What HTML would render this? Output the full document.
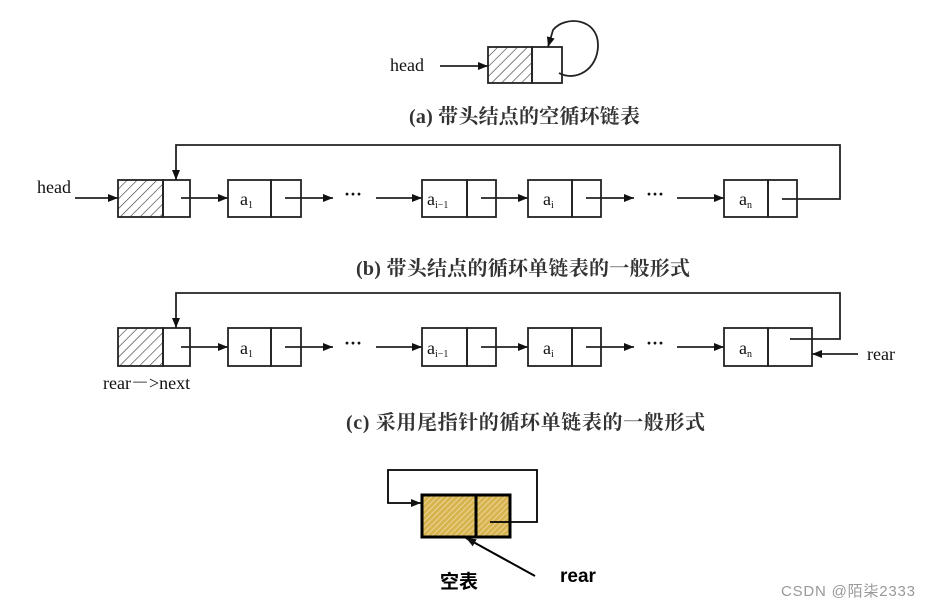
<!DOCTYPE html>
<html><head><meta charset="utf-8"><style>html,body{margin:0;padding:0;background:#fff}svg{display:block}</style></head>
<body>
<svg width="929" height="606" viewBox="0 0 929 606" xmlns="http://www.w3.org/2000/svg" font-family="'Liberation Serif','Noto Serif CJK SC',serif">
<defs>
<pattern id="h" width="7" height="7" patternUnits="userSpaceOnUse" patternTransform="rotate(45)"><rect width="7" height="7" fill="#fff"/><line x1="0" y1="0" x2="0" y2="7" stroke="#333" stroke-width="1.2"/></pattern>
<pattern id="y" width="4" height="4" patternUnits="userSpaceOnUse" patternTransform="rotate(45)"><rect width="4" height="4" fill="#d8b450"/><line x1="0" y1="0" x2="0" y2="4" stroke="#f3e3b0" stroke-width="1.4"/></pattern>
<marker id="a" markerWidth="10" markerHeight="8" refX="10" refY="4" orient="auto" markerUnits="userSpaceOnUse"><path d="M0,0 L10,4 L0,8 z" fill="#111"/></marker>
</defs>
<g stroke="#222" stroke-width="1.8" fill="none">
<line x1="440" y1="66" x2="488" y2="66" marker-end="url(#a)"/>
<rect x="488" y="47" width="44" height="36" fill="url(#h)"/>
<rect x="532" y="47" width="30" height="36"/>
<path d="M559,73 C575,82 598,70 598,45 C598,18 565,15 553,30 L548,47" marker-end="url(#a)"/>
<line x1="75" y1="198" x2="118" y2="198" marker-end="url(#a)"/>
<rect x="118" y="180" width="45" height="37" fill="url(#h)"/>
<rect x="163" y="180" width="27" height="37"/>
<line x1="181" y1="198" x2="228" y2="198" marker-end="url(#a)"/>
<rect x="228" y="180" width="43" height="37"/><rect x="271" y="180" width="30" height="37"/>
<line x1="285" y1="198" x2="333" y2="198" marker-end="url(#a)"/>
<line x1="376" y1="198" x2="422" y2="198" marker-end="url(#a)"/>
<rect x="422" y="180" width="45" height="37"/><rect x="467" y="180" width="29" height="37"/>
<line x1="481" y1="198" x2="528" y2="198" marker-end="url(#a)"/>
<rect x="528" y="180" width="44" height="37"/><rect x="572" y="180" width="29" height="37"/>
<line x1="586" y1="198" x2="634" y2="198" marker-end="url(#a)"/>
<line x1="677" y1="198" x2="724" y2="198" marker-end="url(#a)"/>
<rect x="724" y="180" width="44" height="37"/><rect x="768" y="180" width="29" height="37"/>
<path d="M782,199 H840 V145 H176 V180" marker-end="url(#a)"/>
<rect x="118" y="328" width="45" height="38" fill="url(#h)"/>
<rect x="163" y="328" width="27" height="38"/>
<line x1="181" y1="347" x2="228" y2="347" marker-end="url(#a)"/>
<rect x="228" y="328" width="43" height="38"/><rect x="271" y="328" width="30" height="38"/>
<line x1="285" y1="347" x2="333" y2="347" marker-end="url(#a)"/>
<line x1="376" y1="347" x2="422" y2="347" marker-end="url(#a)"/>
<rect x="422" y="328" width="45" height="38"/><rect x="467" y="328" width="29" height="38"/>
<line x1="481" y1="347" x2="528" y2="347" marker-end="url(#a)"/>
<rect x="528" y="328" width="44" height="38"/><rect x="572" y="328" width="29" height="38"/>
<line x1="586" y1="347" x2="634" y2="347" marker-end="url(#a)"/>
<line x1="677" y1="347" x2="724" y2="347" marker-end="url(#a)"/>
<rect x="724" y="328" width="44" height="38"/><rect x="768" y="328" width="44" height="38"/>
<path d="M790,339 H840 V293 H176 V328" marker-end="url(#a)"/>
<line x1="858" y1="354" x2="812" y2="354" marker-end="url(#a)"/>
<rect x="422" y="495" width="54" height="42" fill="url(#y)" stroke="#000" stroke-width="3"/>
<rect x="476" y="495" width="34" height="42" fill="url(#y)" stroke="#000" stroke-width="3"/>
<path d="M490,522 H537 V470 H388 V503 H421" stroke="#000" marker-end="url(#a)"/>
<line x1="535" y1="576" x2="466" y2="538" stroke="#000" stroke-width="2" marker-end="url(#a)"/>
</g>
<g fill="#111" font-size="18">
<text x="390" y="71">head</text>
<text x="37" y="193">head</text>
<text x="867" y="360">rear</text>
<text x="103" y="389">rear－&gt;next</text>
<text x="240" y="205">a<tspan font-size="10" dy="3">1</tspan></text>
<text x="240" y="354">a<tspan font-size="10" dy="3">1</tspan></text>
<text x="427" y="205">a<tspan font-size="10" dy="3">i−1</tspan></text>
<text x="427" y="354">a<tspan font-size="10" dy="3">i−1</tspan></text>
<text x="543" y="205">a<tspan font-size="10" dy="3">i</tspan></text>
<text x="543" y="354">a<tspan font-size="10" dy="3">i</tspan></text>
<text x="739" y="205">a<tspan font-size="10" dy="3">n</tspan></text>
<text x="739" y="354">a<tspan font-size="10" dy="3">n</tspan></text>
<text x="344" y="200" font-weight="bold">···</text>
<text x="344" y="349" font-weight="bold">···</text>
<text x="646" y="200" font-weight="bold">···</text>
<text x="646" y="349" font-weight="bold">···</text>
</g>
<g fill="#333" font-size="20" font-weight="bold">
<text x="409" y="123" textLength="231">(a) 带头结点的空循环链表</text>
<text x="356" y="275" textLength="334">(b) 带头结点的循环单链表的一般形式</text>
<text x="346" y="429" textLength="359">(c) 采用尾指针的循环单链表的一般形式</text>
</g>
<g font-family="'Liberation Sans','Noto Sans CJK SC',sans-serif" font-weight="bold" fill="#000">
<text x="440" y="588" font-size="19">空表</text>
<text x="560" y="582" font-size="19">rear</text>
</g>
<text x="781" y="596" font-family="'Liberation Sans','Noto Sans CJK SC',sans-serif" font-size="15" fill="#999" textLength="134">CSDN @陌柒2333</text>
</svg>
</body></html>
